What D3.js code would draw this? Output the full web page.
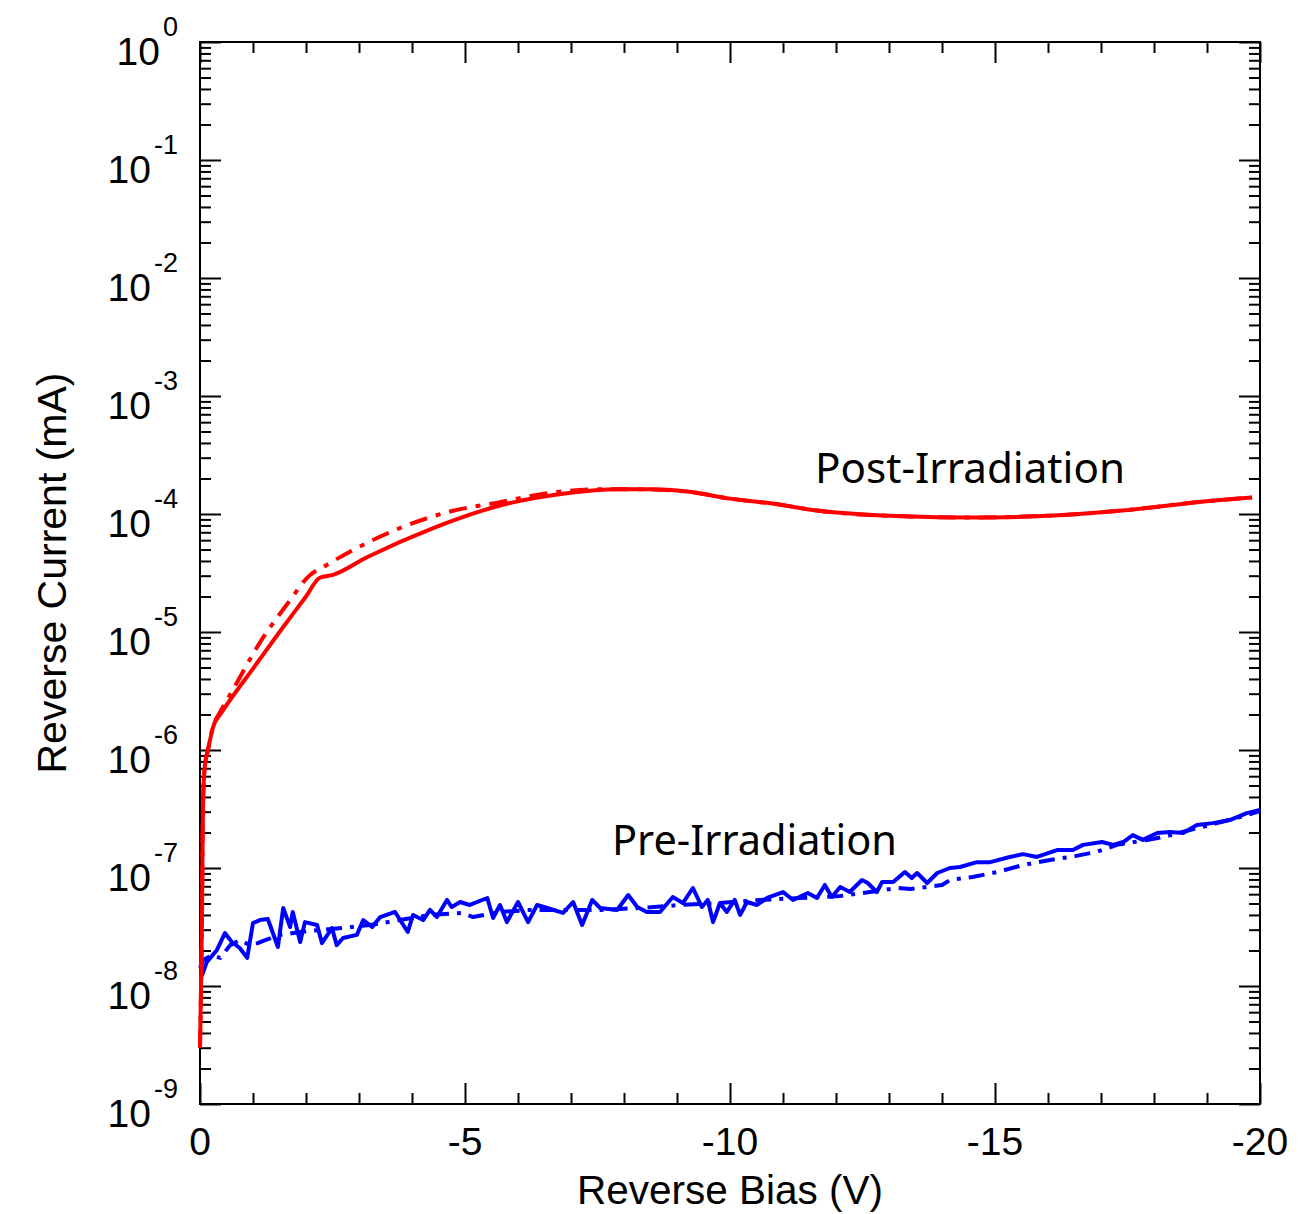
<!DOCTYPE html>
<html>
<head>
<meta charset="utf-8">
<script src="https://cdn.jsdelivr.net/npm/d3@7/dist/d3.min.js"></script>
<style>
  html, body { margin: 0; padding: 0; background: #fff; }
  svg { display: block; }
</style>
</head>
<body>
<svg id="chart" width="1304" height="1214"></svg>
<script>
// ---- Data: [reverse bias (V), reverse current (mA)] ----
const postSolid = [
  [0.00, 3.0e-9], [-0.02, 1.0e-8], [-0.04, 5.0e-8], [-0.05, 2.0e-7], [-0.06, 4.0e-7],
  [-0.09, 7.2e-7], [-0.15, 1.0e-6], [-0.25, 1.58e-6], [-0.38, 2.0e-6], [-0.5, 2.4e-6],
  [-1.0, 4.9e-6], [-1.5, 1.0e-5], [-2.0, 2.0e-5], [-2.26, 2.88e-5], [-2.51, 3.05e-5],
  [-3.15, 4.30e-5], [-4.40, 7.60e-5], [-5.66, 1.18e-4], [-6.92, 1.50e-4], [-7.87, 1.62e-4],
  [-8.49, 1.62e-4], [-9.19, 1.55e-4], [-10.0, 1.35e-4], [-10.83, 1.22e-4], [-11.64, 1.07e-4],
  [-13.28, 9.55e-5], [-14.53, 9.33e-5], [-15.75, 9.55e-5], [-17.4, 1.07e-4], [-19.04, 1.29e-4],
  [-19.85, 1.38e-4]
];
const postDashDot = [
  [0.00, 3.0e-9], [-0.02, 1.0e-8], [-0.04, 5.0e-8], [-0.05, 2.0e-7], [-0.06, 4.0e-7],
  [-0.09, 7.2e-7], [-0.15, 1.0e-6], [-0.25, 1.6e-6], [-0.38, 2.1e-6], [-0.62, 3.24e-6],
  [-1.13, 8.13e-6], [-1.70, 1.86e-5], [-2.02, 2.88e-5], [-2.40, 3.72e-5], [-2.83, 4.79e-5],
  [-3.77, 7.59e-5], [-4.72, 1.05e-4], [-5.66, 1.26e-4], [-6.60, 1.51e-4], [-7.55, 1.62e-4],
  [-8.17, 1.62e-4], [-9.19, 1.55e-4], [-10.0, 1.35e-4], [-10.83, 1.22e-4], [-11.64, 1.07e-4],
  [-13.28, 9.55e-5], [-14.53, 9.33e-5], [-15.75, 9.55e-5], [-17.4, 1.07e-4], [-19.04, 1.29e-4],
  [-19.85, 1.38e-4]
];
const preSolid = [
  [0.00, 1.24e-8], [-0.04, 1.24e-8], [-0.13, 1.60e-8], [-0.32, 2.02e-8], [-0.47, 2.81e-8],
  [-0.60, 2.36e-8], [-0.75, 2.10e-8], [-0.89, 1.73e-8], [-1.00, 3.42e-8], [-1.13, 3.62e-8],
  [-1.28, 3.70e-8], [-1.47, 2.14e-8], [-1.57, 4.58e-8], [-1.70, 3.16e-8], [-1.75, 4.24e-8],
  [-1.89, 2.36e-8], [-1.98, 3.48e-8], [-2.21, 3.29e-8], [-2.30, 2.31e-8], [-2.49, 3.10e-8],
  [-2.58, 2.22e-8], [-2.70, 2.55e-8], [-2.96, 2.71e-8], [-3.08, 3.62e-8], [-3.25, 3.16e-8],
  [-3.40, 3.84e-8], [-3.68, 4.24e-8], [-3.92, 2.87e-8], [-4.02, 4.00e-8], [-4.21, 3.62e-8],
  [-4.34, 4.41e-8], [-4.47, 3.84e-8], [-4.66, 5.36e-8], [-4.75, 4.67e-8], [-4.91, 5.15e-8],
  [-5.09, 4.86e-8], [-5.42, 5.57e-8], [-5.53, 3.77e-8], [-5.66, 4.86e-8], [-5.79, 3.48e-8],
  [-6.00, 5.15e-8], [-6.19, 3.48e-8], [-6.36, 4.86e-8], [-6.55, 4.58e-8], [-6.85, 4.16e-8],
  [-7.04, 5.15e-8], [-7.21, 3.29e-8], [-7.40, 5.36e-8], [-7.55, 4.58e-8], [-7.87, 4.41e-8],
  [-8.08, 5.90e-8], [-8.25, 4.67e-8], [-8.43, 4.24e-8], [-8.68, 4.24e-8], [-8.92, 5.68e-8],
  [-9.11, 5.05e-8], [-9.30, 6.77e-8], [-9.47, 4.67e-8], [-9.58, 5.36e-8], [-9.68, 3.48e-8],
  [-9.81, 5.05e-8], [-9.94, 4.24e-8], [-10.09, 5.36e-8], [-10.19, 4.00e-8], [-10.32, 5.15e-8],
  [-10.51, 4.86e-8], [-10.70, 5.57e-8], [-11.00, 6.26e-8], [-11.19, 5.36e-8], [-11.47, 6.14e-8],
  [-11.64, 5.57e-8], [-11.79, 7.18e-8], [-11.92, 5.68e-8], [-12.08, 6.90e-8], [-12.26, 6.26e-8],
  [-12.49, 7.91e-8], [-12.60, 7.46e-8], [-12.77, 6.26e-8], [-12.87, 7.60e-8], [-13.08, 7.60e-8],
  [-13.30, 9.24e-8], [-13.43, 8.22e-8], [-13.53, 9.07e-8], [-13.72, 7.46e-8], [-13.91, 9.07e-8],
  [-14.15, 1.00e-7], [-14.34, 1.02e-7], [-14.66, 1.12e-7], [-14.91, 1.12e-7], [-15.28, 1.24e-7],
  [-15.53, 1.31e-7], [-15.79, 1.24e-7], [-16.17, 1.42e-7], [-16.47, 1.42e-7], [-16.66, 1.57e-7],
  [-17.02, 1.66e-7], [-17.23, 1.57e-7], [-17.42, 1.66e-7], [-17.60, 1.90e-7], [-17.79, 1.73e-7],
  [-18.06, 1.98e-7], [-18.30, 2.02e-7], [-18.55, 1.98e-7], [-18.81, 2.31e-7], [-19.11, 2.40e-7],
  [-19.43, 2.55e-7], [-19.75, 2.92e-7], [-20.00, 3.10e-7]
];
const preDashDot = [
  [0.00, 1.42e-8], [-0.06, 1.66e-8], [-0.23, 1.83e-8], [-0.38, 1.73e-8], [-0.57, 2.22e-8],
  [-0.75, 2.45e-8], [-0.94, 2.22e-8], [-1.09, 2.31e-8], [-1.23, 2.45e-8], [-1.51, 2.71e-8],
  [-1.89, 2.87e-8], [-2.26, 2.98e-8], [-2.68, 3.10e-8], [-3.21, 3.29e-8], [-3.77, 3.62e-8],
  [-4.34, 4.00e-8], [-4.96, 4.16e-8], [-5.15, 3.84e-8], [-5.66, 4.24e-8], [-6.23, 4.41e-8],
  [-6.79, 4.41e-8], [-7.55, 4.41e-8], [-8.30, 4.58e-8], [-9.06, 4.86e-8], [-9.81, 5.05e-8],
  [-10.57, 5.36e-8], [-11.32, 5.57e-8], [-12.08, 5.79e-8], [-12.64, 6.26e-8], [-13.15, 6.77e-8],
  [-13.40, 6.64e-8], [-14.00, 7.18e-8], [-14.15, 7.91e-8], [-14.58, 8.39e-8], [-15.04, 9.24e-8],
  [-15.53, 1.06e-7], [-16.04, 1.17e-7], [-16.51, 1.26e-7], [-16.92, 1.37e-7], [-17.30, 1.57e-7],
  [-17.87, 1.73e-7], [-18.17, 1.83e-7], [-18.68, 2.10e-7], [-19.19, 2.40e-7], [-19.62, 2.70e-7],
  [-20.00, 3.04e-7]
];
const xMajorTicks = [0, -5, -10, -15, -20];
const xTickLabels = ["0", "-5", "-10", "-15", "-20"];
const yExponents = [0, -1, -2, -3, -4, -5, -6, -7, -8, -9];
const xTitle = "Reverse Bias (V)";
const yTitle = "Reverse Current (mA)";
const labelPost = "Post-Irradiation";
const labelPre = "Pre-Irradiation";

// ---- Layout ----
const L = 200, R = 1260, T = 42, B = 1104;
const svg = d3.select("#chart");
const x = d3.scaleLinear().domain([0, -20]).range([L, R]);
const y = d3.scaleLog().domain([1e-9, 1]).range([B, T]);

const font = "'Liberation Sans', Arial, Helvetica, sans-serif";

const xMinor = d3.range(0, -21, -1).filter(v => v % 5 !== 0);
const yAll = y.ticks();
const yMajorVals = yExponents.map(e => Math.pow(10, e));
const yMinor = yAll.filter(v => Math.abs(Math.log10(v) - Math.round(Math.log10(v))) > 1e-6);

function styleAxis(g) {
  g.select(".domain").remove();
  g.selectAll("line").attr("stroke", "#000").attr("stroke-width", 2);
  g.selectAll("text").remove();
}

svg.append("g").attr("transform", `translate(0,${B})`)
  .call(d3.axisBottom(x).tickValues(xMajorTicks).tickSize(-21)).call(styleAxis);
svg.append("g").attr("transform", `translate(0,${B})`)
  .call(d3.axisBottom(x).tickValues(xMinor).tickSize(-11)).call(styleAxis);
svg.append("g").attr("transform", `translate(0,${T})`)
  .call(d3.axisTop(x).tickValues(xMajorTicks).tickSize(-21)).call(styleAxis);
svg.append("g").attr("transform", `translate(0,${T})`)
  .call(d3.axisTop(x).tickValues(xMinor).tickSize(-11)).call(styleAxis);
svg.append("g").attr("transform", `translate(${L},0)`)
  .call(d3.axisLeft(y).tickValues(yMajorVals).tickSize(-21)).call(styleAxis);
svg.append("g").attr("transform", `translate(${L},0)`)
  .call(d3.axisLeft(y).tickValues(yMinor).tickSize(-11)).call(styleAxis);
svg.append("g").attr("transform", `translate(${R},0)`)
  .call(d3.axisRight(y).tickValues(yMajorVals).tickSize(-21)).call(styleAxis);
svg.append("g").attr("transform", `translate(${R},0)`)
  .call(d3.axisRight(y).tickValues(yMinor).tickSize(-11)).call(styleAxis);

svg.append("rect").attr("x", L).attr("y", T).attr("width", R - L).attr("height", B - T)
  .attr("fill", "none").attr("stroke", "#000").attr("stroke-width", 2);

svg.append("g").selectAll("text").data(xMajorTicks).join("text")
  .attr("x", d => x(d)).attr("y", B + 51)
  .attr("text-anchor", "middle").attr("font-family", font).attr("font-size", 39)
  .attr("fill", "#000").text((d, i) => xTickLabels[i]);

const yl = svg.append("g").selectAll("text").data(yExponents).join("text")
  .attr("x", 178).attr("y", d => y(Math.pow(10, d)) + 23)
  .attr("text-anchor", "end").attr("font-family", font).attr("fill", "#000");
yl.append("tspan").attr("font-size", 39).text("10");
yl.append("tspan").attr("font-size", 27).attr("dy", -29).attr("dx", 3).text(d => String(d));

svg.append("text").attr("x", 730).attr("y", 1204)
  .attr("text-anchor", "middle").attr("font-family", font).attr("font-size", 40.5)
  .attr("fill", "#000").text(xTitle);
svg.append("text").attr("transform", `translate(66,573) rotate(-90)`)
  .attr("text-anchor", "middle").attr("font-family", font).attr("font-size", 41)
  .attr("fill", "#000").text(yTitle);

const lineLin = d3.line().x(d => x(d[0])).y(d => y(d[1]));
const lineSmooth = d3.line().x(d => x(d[0])).y(d => y(d[1])).curve(d3.curveMonotoneX);

svg.append("path").datum(preDashDot).attr("d", lineLin)
  .attr("fill", "none").attr("stroke", "#0000ff").attr("stroke-width", 4)
  .attr("stroke-dasharray", "16,8,4,8").attr("stroke-linejoin", "round");
svg.append("path").datum(preSolid).attr("d", lineLin)
  .attr("fill", "none").attr("stroke", "#0000ff").attr("stroke-width", 4)
  .attr("stroke-linejoin", "round");
svg.append("path").datum(postDashDot).attr("d", lineSmooth)
  .attr("fill", "none").attr("stroke", "#ff0000").attr("stroke-width", 4)
  .attr("stroke-dasharray", "18,9,5,9").attr("stroke-linejoin", "round");
svg.append("path").datum(postSolid).attr("d", lineSmooth)
  .attr("fill", "none").attr("stroke", "#ff0000").attr("stroke-width", 4)
  .attr("stroke-linejoin", "round");

svg.append("text").attr("x", 815).attr("y", 483)
  .attr("font-family", "'Noto Sans', 'Open Sans', sans-serif").attr("font-size", 41)
  .attr("textLength", 310).attr("lengthAdjust", "spacingAndGlyphs")
  .attr("fill", "#000").text(labelPost);
svg.append("text").attr("x", 612).attr("y", 855)
  .attr("font-family", "'Noto Sans', 'Open Sans', sans-serif").attr("font-size", 41)
  .attr("textLength", 285).attr("lengthAdjust", "spacingAndGlyphs")
  .attr("fill", "#000").text(labelPre);
</script>
</body>
</html>
